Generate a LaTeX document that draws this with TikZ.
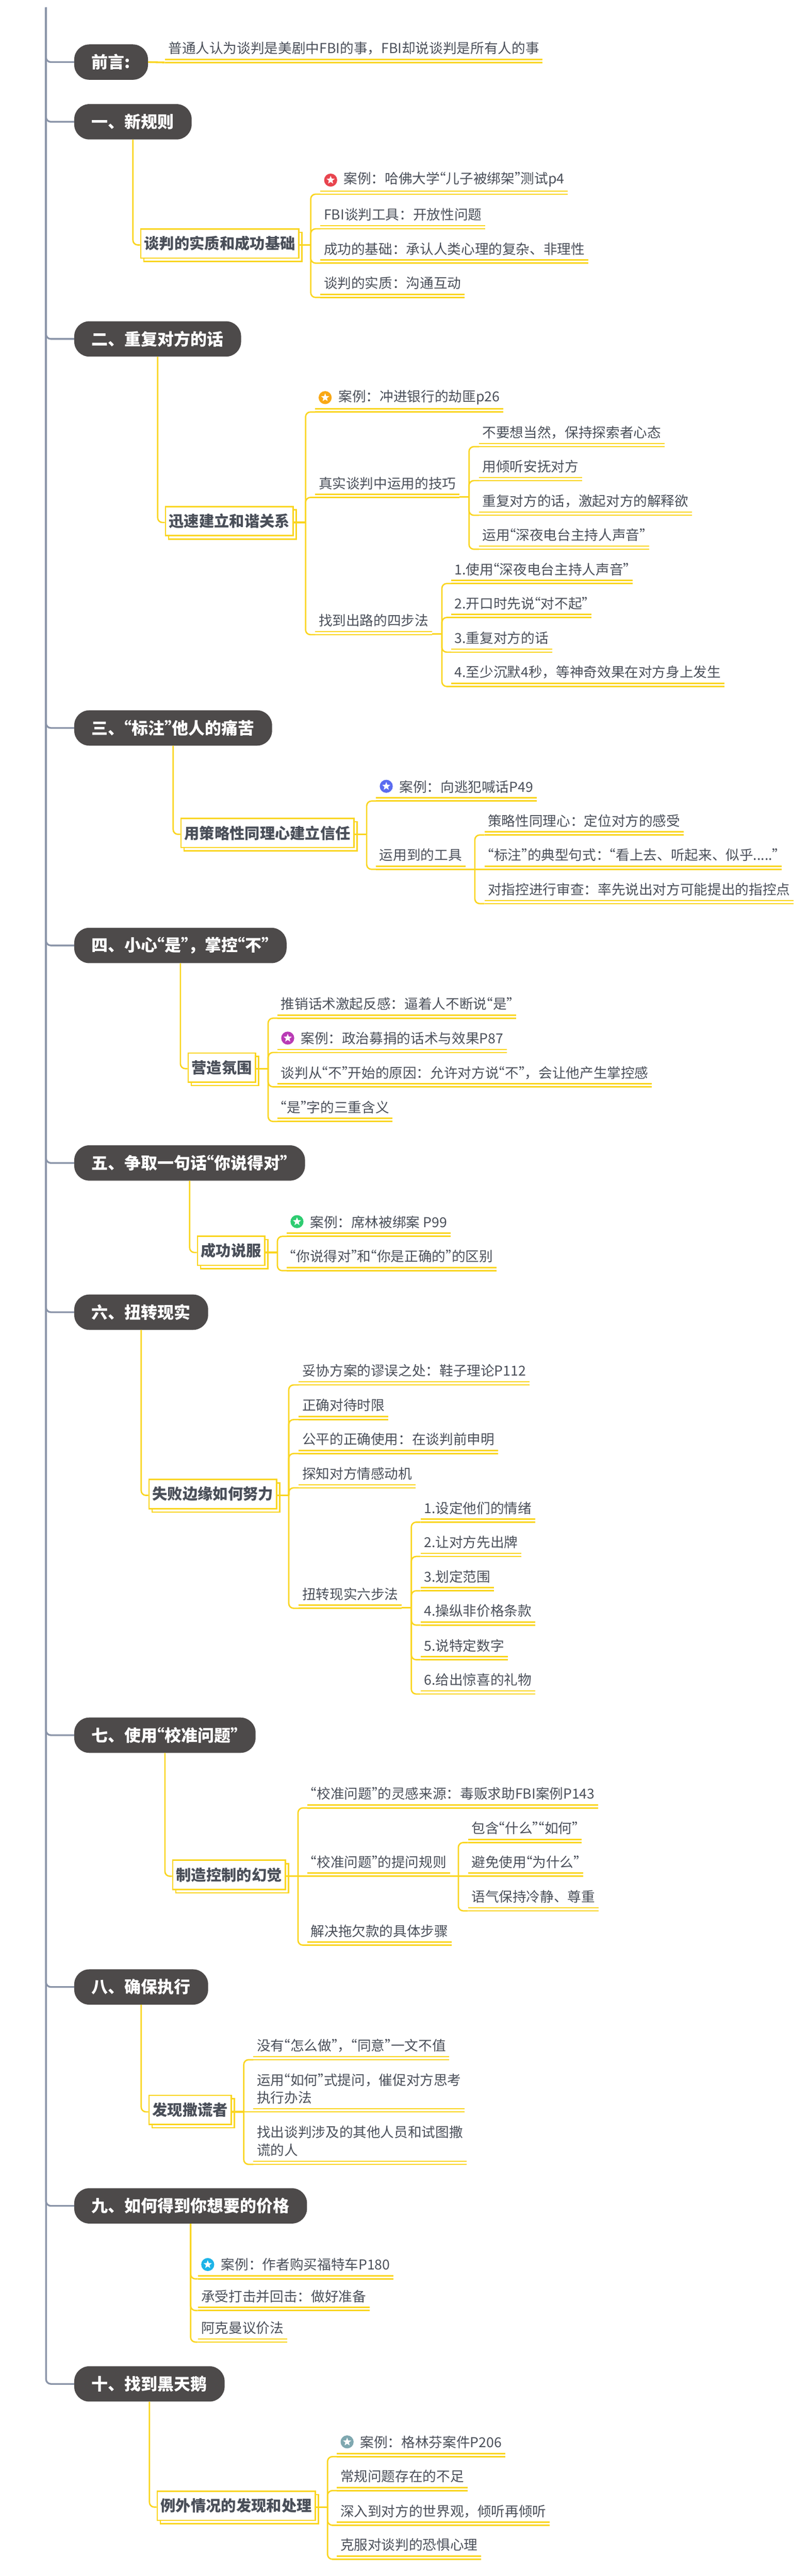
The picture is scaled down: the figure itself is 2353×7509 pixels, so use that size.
\documentclass[tikz,border=0pt]{standalone}
\usepackage{fontspec}
\setmainfont{Noto Sans CJK SC}
\usetikzlibrary{positioning,shadows,shapes.geometric}

\definecolor{gold}{HTML}{FAD51F}
\definecolor{slate}{HTML}{8A94A8}
\definecolor{ink}{HTML}{4A4F59}
\definecolor{headfill}{HTML}{4D4A4A}
\definecolor{starred}{HTML}{E8454F}
\definecolor{starorange}{HTML}{F9A814}
\definecolor{starblue}{HTML}{5B6CF0}
\definecolor{starpurple}{HTML}{B93BB5}
\definecolor{stargreen}{HTML}{2ECC71}
\definecolor{starcyan}{HTML}{1EB4E8}
\definecolor{starteal}{HTML}{7FA8B0}

\newcommand{\leafstrut}{\rule[-5pt]{0pt}{40pt}}
\newcommand{\badged}{\hspace*{58pt}}

\catcode`“=\active
\catcode`”=\active
\def“{\kern-.56em\char"201C\relax}
\def”{\char"201D\relax\kern-.56em}

\tikzset{
	head/.style={anchor=west, fill=headfill, text=white, rounded corners=44pt, minimum height=103pt, inner xsep=51pt, inner ysep=0pt, font=\fontsize{48pt}{52pt}\selectfont\bfseries},
	mainbox/.style={anchor=west, draw=gold, fill=white, line width=4pt, minimum height=85pt, inner xsep=10pt, inner ysep=0pt, text=ink, font=\fontsize{44pt}{50pt}\selectfont\bfseries, copy shadow={shadow xshift=9pt, shadow yshift=-10pt, draw=gold, fill=white, line width=4pt}},
	leaf/.style={anchor=south west, inner xsep=10pt, inner ysep=21pt, text=ink, font=\fontsize{40pt}{52pt}\selectfont, align=left, execute at begin node=\leafstrut, append after command={(\tikzlastnode.south west) edge[rule] (\tikzlastnode.south east) ([yshift=9pt]\tikzlastnode.south west) edge[rule] ([yshift=9pt]\tikzlastnode.south east)}},
	rule/.style={draw=gold, line width=4pt},
	twig/.style={draw=gold, line width=4pt, rounded corners=14pt},
	stub/.style={draw=gold, line width=5pt},
	spine/.style={draw=slate, line width=5pt, rounded corners=14pt},
	badge/.style={circle, fill=#1, minimum size=38pt, inner sep=0pt, label={[pip]center:{}}},
	pip/.style={star, star points=5, star point ratio=2.3, fill=white, minimum size=25pt, inner sep=0pt}
}

\begin{document}
\begin{tikzpicture}[x=1pt, y=-1pt]
	\useasboundingbox (0,0) rectangle (2353,7509);

	\coordinate (top) at (134,22);
	\node[head] (h0) at (216,181) {前言:};
	\node[head] (h1) at (216,355) {一、新规则};
	\node[head] (h2) at (216,988) {二、重复对方的话};
	\node[head] (h3) at (216,2122) {三、“标注”他人的痛苦};
	\node[head] (h4) at (216,2756) {四、小心“是”，掌控“不”};
	\node[head] (h5) at (216,3390) {五、争取一句话“你说得对”};
	\node[head] (h6) at (216,3825) {六、扭转现实};
	\node[head] (h7) at (216,5058) {七、使用“校准问题”};
	\node[head] (h8) at (216,5792) {八、确保执行};
	\node[head] (h9) at (216,6430) {九、如何得到你想要的价格};
	\node[head] (h10) at (216,6949) {十、找到黑天鹅};

	\draw[spine] (top) |- (h0.west);
	\draw[spine] (top) |- (h1.west);
	\draw[spine] (top) |- (h2.west);
	\draw[spine] (top) |- (h3.west);
	\draw[spine] (top) |- (h4.west);
	\draw[spine] (top) |- (h5.west);
	\draw[spine] (top) |- (h6.west);
	\draw[spine] (top) |- (h7.west);
	\draw[spine] (top) |- (h8.west);
	\draw[spine] (top) |- (h9.west);
	\draw[spine] (top) |- (h10.west);

	\node[leaf] (n01) at (480,182) {普通人认为谈判是美剧中FBI的事，FBI却说谈判是所有人的事};
	\draw[stub] (h0.east) -- (n01.south west);

	\coordinate (j1) at (905,714);
	\node[mainbox] (m1) at (408,710) {谈判的实质和成功基础};
	\node[leaf] (n11) at (933,566) {\badged 案例：哈佛大学“儿子被绑架”测试p4};
	\node[badge=starred] (i1) at (963,525) {};
	\node[leaf] (n12) at (933,667) {FBI谈判工具：开放性问题};
	\node[leaf] (n13) at (933,767) {成功的基础：承认人类心理的复杂、非理性};
	\node[leaf] (n14) at (933,867) {谈判的实质：沟通互动};

	\draw[twig] (h1.south) |- (m1.west |- j1);
	\draw[stub] (m1.east |- j1) -- (j1);
	\draw[twig] (j1) |- (n11.south west);
	\draw[twig] (j1) |- (n12.south west);
	\draw[twig] (j1) |- (n13.south west);
	\draw[twig] (j1) |- (n14.south west);

	\coordinate (j2) at (890,1523);
	\coordinate (j22) at (1366,1448);
	\coordinate (j23) at (1287,1848);
	\node[mainbox] (m2) at (480,1519) {迅速建立和谐关系};
	\node[leaf] (n21) at (918,1201) {\badged 案例：冲进银行的劫匪p26};
	\node[badge=starorange] (i2) at (947,1159) {};
	\node[leaf] (n22) at (918,1450) {真实谈判中运用的技巧};
	\node[leaf] (n221) at (1395,1302) {不要想当然，保持探索者心态};
	\node[leaf] (n222) at (1395,1401) {用倾听安抚对方};
	\node[leaf] (n223) at (1395,1502) {重复对方的话，激起对方的解释欲};
	\node[leaf] (n224) at (1395,1601) {运用“深夜电台主持人声音”};
	\node[leaf] (n23) at (918,1850) {找到出路的四步法};
	\node[leaf] (n231) at (1314,1701) {1.使用“深夜电台主持人声音”};
	\node[leaf] (n232) at (1314,1800) {2.开口时先说“对不起”};
	\node[leaf] (n233) at (1314,1901) {3.重复对方的话};
	\node[leaf] (n234) at (1314,2001) {4.至少沉默4秒，等神奇效果在对方身上发生};

	\draw[twig] (h2.south) |- (m2.west |- j2);
	\draw[stub] (m2.east |- j2) -- (j2);
	\draw[twig] (j2) |- (n21.south west);
	\draw[twig] (j2) |- (n22.south west);
	\draw[twig] (j2) |- (n23.south west);
	\draw[stub] (n22.south east |- j22) -- (j22);
	\draw[twig] (j22) |- (n221.south west);
	\draw[twig] (j22) |- (n222.south west);
	\draw[twig] (j22) |- (n223.south west);
	\draw[twig] (j22) |- (n224.south west);
	\draw[stub] (n23.south east |- j23) -- (j23);
	\draw[twig] (j23) |- (n231.south west);
	\draw[twig] (j23) |- (n232.south west);
	\draw[twig] (j23) |- (n233.south west);
	\draw[twig] (j23) |- (n234.south west);

	\coordinate (j3) at (1068,2432);
	\coordinate (j32) at (1383,2534);
	\node[mainbox] (m3) at (525,2428) {用策略性同理心建立信任};
	\node[leaf] (n31) at (1095,2335) {\badged 案例：向逃犯喊话P49};
	\node[badge=starblue] (i3) at (1125,2292) {};
	\node[leaf] (n32) at (1095,2534) {运用到的工具};
	\node[leaf] (n321) at (1411,2434) {策略性同理心：定位对方的感受};
	\node[leaf] (n322) at (1411,2534) {“标注”的典型句式：“看上去、听起来、似乎.....”};
	\node[leaf] (n323) at (1411,2634) {对指控进行审查：率先说出对方可能提出的指控点};

	\draw[twig] (h3.south) |- (m3.west |- j3);
	\draw[stub] (m3.east |- j3) -- (j3);
	\draw[twig] (j3) |- (n31.south west);
	\draw[twig] (j3) |- (n32.south west);
	\draw[stub] (n32.south east) -- (j32);
	\draw[twig] (j32) |- (n321.south west);
	\draw[twig] (j32) -- (n322.south west);
	\draw[twig] (j32) |- (n323.south west);

	\coordinate (j4) at (781,3115);
	\node[mainbox] (m4) at (546,3112) {营造氛围};
	\node[leaf] (n41) at (808,2968) {推销话术激起反感：逼着人不断说“是”};
	\node[leaf] (n42) at (808,3068) {\badged 案例：政治募捐的话术与效果P87};
	\node[badge=starpurple] (i4) at (838,3026) {};
	\node[leaf] (n43) at (808,3168) {谈判从“不”开始的原因：允许对方说“不”，会让他产生掌控感};
	\node[leaf] (n44) at (808,3269) {“是”字的三重含义};

	\draw[twig] (h4.south) |- (m4.west |- j4);
	\draw[stub] (m4.east |- j4) -- (j4);
	\draw[twig] (j4) |- (n41.south west);
	\draw[twig] (j4) |- (n42.south west);
	\draw[twig] (j4) |- (n43.south west);
	\draw[twig] (j4) |- (n44.south west);

	\coordinate (j5) at (808,3651);
	\node[mainbox] (m5) at (573,3646) {成功说服};
	\node[leaf] (n51) at (835,3604) {\badged 案例：席林被绑案 P99};
	\node[badge=stargreen] (i5) at (865,3561) {};
	\node[leaf] (n52) at (835,3704) {“你说得对”和“你是正确的”的区别};

	\draw[twig] (h5.south) |- (m5.west |- j5);
	\draw[stub] (m5.east |- j5) -- (j5);
	\draw[twig] (j5) |- (n51.south west);
	\draw[twig] (j5) |- (n52.south west);

	\coordinate (j6) at (841,4359);
	\coordinate (j65) at (1198,4686);
	\node[mainbox] (m6) at (432,4355) {失败边缘如何努力};
	\node[leaf] (n61) at (870,4037) {妥协方案的谬误之处：鞋子理论P112};
	\node[leaf] (n62) at (870,4138) {正确对待时限};
	\node[leaf] (n63) at (870,4237) {公平的正确使用：在谈判前申明};
	\node[leaf] (n64) at (870,4337) {探知对方情感动机};
	\node[leaf] (n65) at (870,4688) {扭转现实六步法};
	\node[leaf] (n651) at (1225,4437) {1.设定他们的情绪};
	\node[leaf] (n652) at (1225,4537) {2.让对方先出牌};
	\node[leaf] (n653) at (1225,4637) {3.划定范围};
	\node[leaf] (n654) at (1225,4737) {4.操纵非价格条款};
	\node[leaf] (n655) at (1225,4838) {5.说特定数字};
	\node[leaf] (n656) at (1225,4938) {6.给出惊喜的礼物};

	\draw[twig] (h6.south) |- (m6.west |- j6);
	\draw[stub] (m6.east |- j6) -- (j6);
	\draw[twig] (j6) |- (n61.south west);
	\draw[twig] (j6) |- (n62.south west);
	\draw[twig] (j6) |- (n63.south west);
	\draw[twig] (j6) |- (n64.south west);
	\draw[twig] (j6) |- (n65.south west);
	\draw[stub] (n65.south east |- j65) -- (j65);
	\draw[twig] (j65) |- (n651.south west);
	\draw[twig] (j65) |- (n652.south west);
	\draw[twig] (j65) |- (n653.south west);
	\draw[twig] (j65) |- (n654.south west);
	\draw[twig] (j65) |- (n655.south west);
	\draw[twig] (j65) |- (n656.south west);

	\coordinate (j7) at (868,5469);
	\coordinate (j72) at (1335,5469);
	\node[mainbox] (m7) at (501,5465) {制造控制的幻觉};
	\node[leaf] (n71) at (895,5270) {“校准问题”的灵感来源：毒贩求助FBI案例P143};
	\node[leaf] (n72) at (895,5469) {“校准问题”的提问规则};
	\node[leaf] (n721) at (1363,5371) {包含“什么”“如何”};
	\node[leaf] (n722) at (1363,5469) {避免使用“为什么”};
	\node[leaf] (n723) at (1363,5570) {语气保持冷静、尊重};
	\node[leaf] (n73) at (895,5670) {解决拖欠款的具体步骤};

	\draw[twig] (h7.south) |- (m7.west |- j7);
	\draw[stub] (m7.east |- j7) -- (j7);
	\draw[twig] (j7) |- (n71.south west);
	\draw[twig] (j7) -- (n72.south west);
	\draw[twig] (j7) |- (n73.south west);
	\draw[stub] (n72.south east) -- (j72);
	\draw[twig] (j72) |- (n721.south west);
	\draw[twig] (j72) -- (n722.south west);
	\draw[twig] (j72) |- (n723.south west);

	\coordinate (j8) at (710,6156);
	\node[mainbox] (m8) at (432,6150) {发现撒谎者};
	\node[leaf] (n81) at (738,6004) {没有“怎么做”，“同意”一文不值};
	\node[leaf] (n82) at (738,6156) {运用“如何”式提问，催促对方思考\\\leafstrut 执行办法};
	\node[leaf] (n83) at (738,6309) {找出谈判涉及的其他人员和试图撒\\\leafstrut 谎的人};

	\draw[twig] (h8.south) |- (m8.west |- j8);
	\draw[stub] (m8.east |- j8) -- (j8);
	\draw[twig] (j8) |- (n81.south west);
	\draw[twig] (j8) -- (n82.south west);
	\draw[twig] (j8) |- (n83.south west);

	\node[leaf] (n91) at (576,6643) {\badged 案例：作者购买福特车P180};
	\node[badge=starcyan] (i9) at (605,6601) {};
	\node[leaf] (n92) at (576,6735) {承受打击并回击：做好准备};
	\node[leaf] (n93) at (576,6827) {阿克曼议价法};

	\draw[twig] (h9.south) |- (n91.south west);
	\draw[twig] (h9.south) |- (n92.south west);
	\draw[twig] (h9.south) |- (n93.south west);

	\coordinate (j10) at (954,7308);
	\node[mainbox] (m10) at (456,7304) {例外情况的发现和处理};
	\node[leaf] (n101) at (981,7161) {\badged 案例：格林芬案件P206};
	\node[badge=starteal] (i10) at (1011,7118) {};
	\node[leaf] (n102) at (981,7260) {常规问题存在的不足};
	\node[leaf] (n103) at (981,7361) {深入到对方的世界观，倾听再倾听};
	\node[leaf] (n104) at (981,7460) {克服对谈判的恐惧心理};

	\draw[twig] (h10.south) |- (m10.west |- j10);
	\draw[stub] (m10.east |- j10) -- (j10);
	\draw[twig] (j10) |- (n101.south west);
	\draw[twig] (j10) |- (n102.south west);
	\draw[twig] (j10) |- (n103.south west);
	\draw[twig] (j10) |- (n104.south west);
\end{tikzpicture}
\end{document}
